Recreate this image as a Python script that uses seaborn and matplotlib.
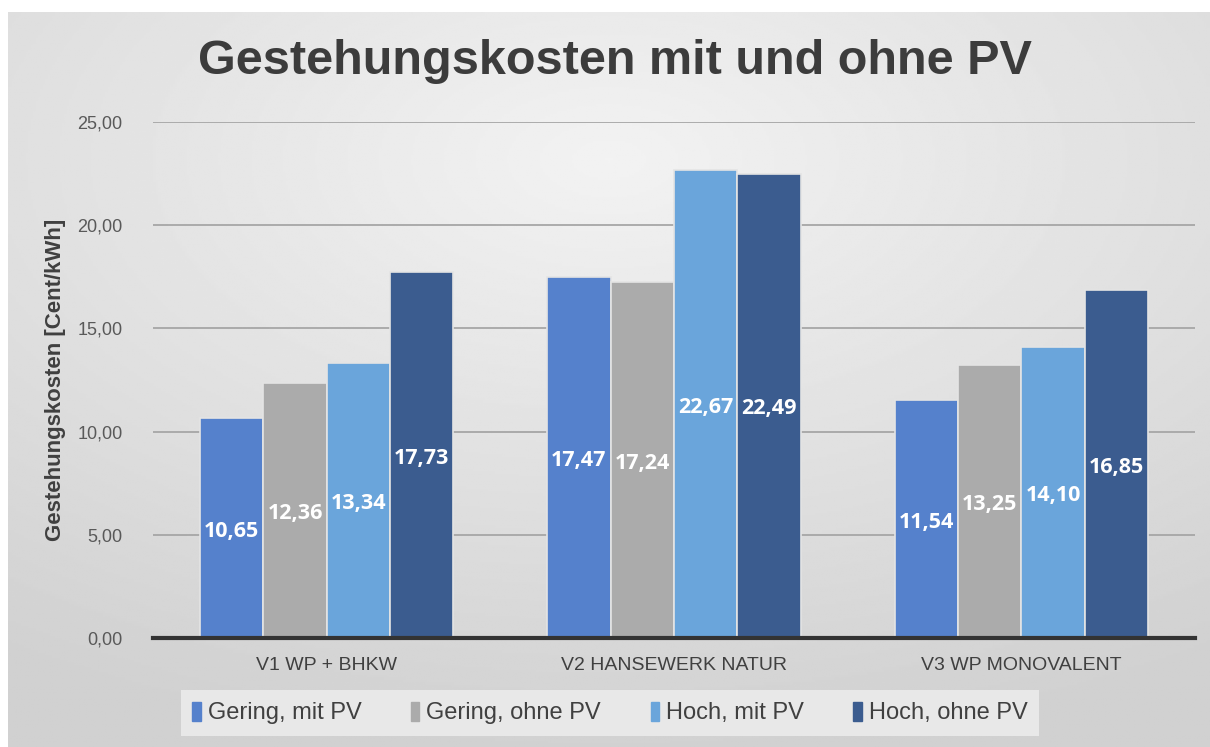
import numpy as np
import pandas as pd
import seaborn as sns
import matplotlib.pyplot as plt

sns.set_theme(style="white")
plt.rcParams['font.family'] = ['Liberation Sans', 'DejaVu Sans']

varianten = ["V1 WP + BHKW", "V2 HANSEWERK NATUR", "V3 WP MONOVALENT"]
szenarien = ["Gering, mit PV", "Gering, ohne PV", "Hoch, mit PV", "Hoch, ohne PV"]
gering_mit = [10.65, 17.47, 11.54]
gering_ohne = [12.36, 17.24, 13.25]
hoch_mit = [13.34, 22.67, 14.10]
hoch_ohne = [17.73, 22.49, 16.85]
farben = ["#5581CC", "#ABABAB", "#6AA5DB", "#3B5C8F"]

rows = []
for s, vals in zip(szenarien, [gering_mit, gering_ohne, hoch_mit, hoch_ohne]):
    for v, w in zip(varianten, vals):
        rows.append({"Variante": v, "Szenario": s, "Kosten": w})
df = pd.DataFrame(rows)

fig = plt.figure(figsize=(12.1, 7.47), dpi=100)
fig.patch.set_facecolor("white")

# gradient background
bg = fig.add_axes([8 / 1210, 0, 1 - 8 / 1210, 1 - 12 / 747], zorder=-10)
yy, xx = np.mgrid[-1:1:300j, -1:1:500j]
r = np.sqrt((xx * 0.9) ** 2 + (yy + 0.6) ** 2)
grad = 0.95 - 0.13 * np.clip(r, 0, 1.6) / 1.6
bg.imshow(grad, cmap="gray", vmin=0, vmax=1, aspect="auto", extent=[0, 1, 0, 1])
bg.axis("off")

ax = fig.add_axes([153 / 1210, 1 - 638 / 747, 1042 / 1210, (638 - 122) / 747])
ax.patch.set_alpha(0)
sns.barplot(data=df, x="Variante", y="Kosten", hue="Szenario", order=varianten,
            hue_order=szenarien, palette=farben, width=0.73, saturation=1,
            edgecolor="#e4e4e4", linewidth=1.2, ax=ax, zorder=3)

for cont in ax.containers:
    for bar in cont:
        h = bar.get_height()
        ax.text(bar.get_x() + bar.get_width() / 2, h / 2 - 0.15, f"{h:.2f}".replace(".", ","),
                ha="center", va="center", color="white", fontsize=15.5,
                fontweight="bold", family=["Open Sans", "DejaVu Sans"], zorder=5)

ax.set_ylim(0, 25)
ax.set_xlim(-0.5, 2.5)
ax.set_yticks([0, 5, 10, 15, 20, 25])
ax.set_yticklabels([f"{t:.2f}".replace(".", ",") for t in [0, 5, 10, 15, 20, 25]],
                   fontsize=13, color="#595959")
ax.yaxis.grid(True, color="#a6a6a6", linewidth=1.3, zorder=0)
ax.set_axisbelow(True)
for s in ["top", "right", "left"]:
    ax.spines[s].set_visible(False)
ax.spines["bottom"].set_color("#333333")
ax.spines["bottom"].set_linewidth(3)
ax.spines["bottom"].set_zorder(6)
ax.tick_params(axis="y", length=0, pad=22)
ax.tick_params(axis="x", length=0, pad=14, labelsize=14, labelcolor="#404040")
ax.set_xlabel("")
ax.set_ylabel("Gestehungskosten [Cent/kWh]", fontsize=16, fontweight="bold",
              color="#404040", labelpad=8)

ax.get_legend().remove()
handles = [plt.Rectangle((0, 0), 1, 1, color=c) for c in farben]
leg = fig.legend(handles, szenarien, loc="center", bbox_to_anchor=(610 / 1210, 1 - 713 / 747),
                 ncol=4, frameon=True, fancybox=False, facecolor="#e8e8e8", edgecolor="none",
                 framealpha=1, fontsize=17, handlelength=0.35, handleheight=0.9,
                 handletextpad=0.3, columnspacing=2.1, borderpad=0.5)
for t in leg.get_texts():
    t.set_color("#404040")

fig.text(615 / 1210, 1 - 62 / 747, "Gestehungskosten mit und ohne PV", ha="center",
         va="center", fontsize=35, fontweight="bold", color="#3c3c3c")

fig.savefig("out.png", dpi=100)
